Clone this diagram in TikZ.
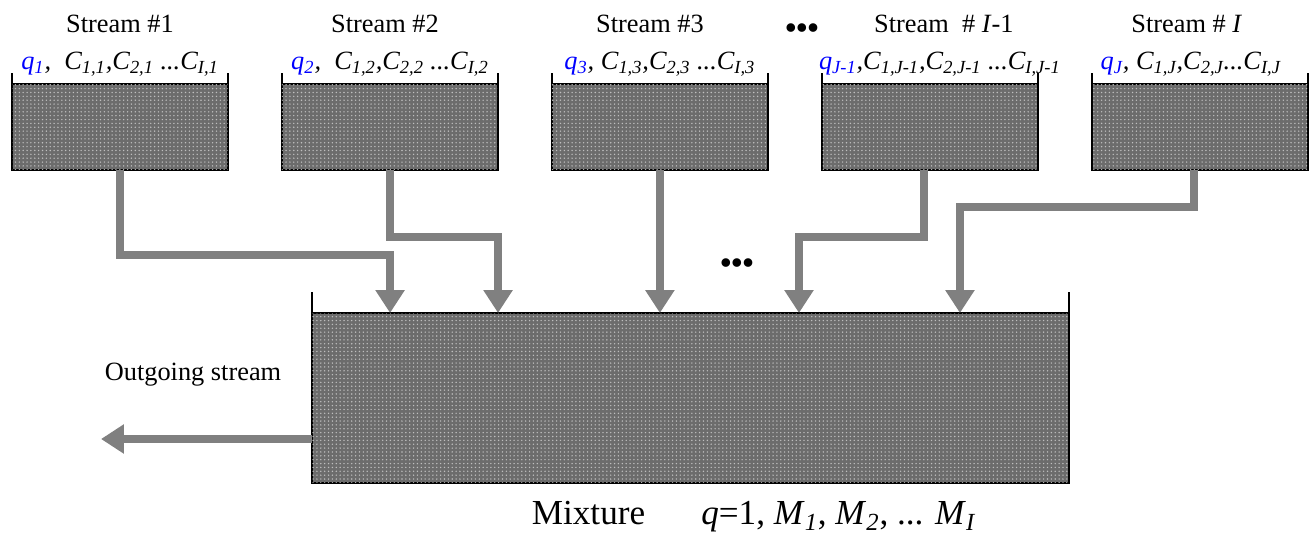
\documentclass[tikz,border=0pt]{standalone}
\usepackage{fontspec}
\setmainfont{Liberation Serif}
\usetikzlibrary{arrows.meta, patterns.meta, positioning}
\definecolor{tankgray}{RGB}{108,108,108}
\definecolor{dotgray}{RGB}{190,190,190}
\definecolor{pipegray}{RGB}{128,128,128}
\newcommand{\idx}[1]{\textsubscript{\textit{#1}}}
\newcommand{\conc}[1]{\textit{C}\idx{#1}}
\newcommand{\flow}[1]{{\color{blue}\textit{q}\idx{#1}}}

\begin{document}
\begin{tikzpicture}[x=0.02cm, y=-0.02cm, node distance=5.4cm, on grid,
    tank/.style={draw=black, line width=1.1pt, fill=tankgray,
      postaction={pattern={Dots[distance=2.2pt, radius=0.45pt]}, pattern color=dotgray},
      minimum width=4.32cm, minimum height=1.72cm, inner sep=0pt, outer sep=0pt},
    wall/.style={draw=black, line width=1.1pt},
    pipe/.style={draw=pipegray, line width=4.6pt, -{Triangle[width=0.56cm, length=0.46cm]}},
    head/.style={font=\fontsize{15}{18}\selectfont, inner sep=0pt},
    dots/.style={font=\fontsize{18}{20}\selectfont\bfseries, inner sep=0pt},
    param/.style={font=\fontsize{15}{18}\selectfont\itshape, inner sep=0pt}]
  \useasboundingbox (0,0) rectangle (1310,537);

  \node[tank] (s1) at (120,127) {};
  \node[tank] [right=of s1] (s2) {};
  \node[tank] [right=of s2] (s3) {};
  \node[tank] [right=of s3] (s4) {};
  \node[tank] [right=of s4] (s5) {};
  \node[tank, minimum width=15.14cm, minimum height=3.4cm] (mix) at (690.5,398) {};

  \foreach \s in {s1,s2,s3,s4,s5}
    \draw[wall] (\s.north west) -- ++(0,-11) (\s.north east) -- ++(0,-11);
  \draw[wall] (mix.north west) -- ++(0,-21) (mix.north east) -- ++(0,-21);

  \node[head] [above=2.06cm of s1] (h1) {Stream \#1};
  \node[head] [above=2.06cm of s2, xshift=-0.1cm] (h2) {Stream \#2};
  \node[head] [above=2.06cm of s3, xshift=-0.2cm] (h3) {Stream \#3};
  \node[head] [above=2.06cm of s4, xshift=0.28cm] (h4) {Stream \ \# \textit{I}-1};
  \node[head] [above=2.06cm of s5, xshift=-0.26cm] (h5) {Stream \# \textit{I}};
  \node[dots] (d1) at (802,31) {\textbullet\textbullet\textbullet};

  \node[param] [above=1.26cm of s1] (p1) {\flow{1},\ \ \conc{1,1},\conc{2,1} ...\conc{I,1}};
  \node[param] [above=1.26cm of s2] (p2) {\flow{2},\ \ \conc{1,2},\conc{2,2} ...\conc{I,2}};
  \node[param] [above=1.26cm of s3] (p3) {\flow{3}, \conc{1,3},\conc{2,3} ...\conc{I,3}};
  \node[param] [above=1.26cm of s4, xshift=0.2cm] (p4) {\flow{J-1},\conc{1,J-1},\conc{2,J-1} ...\conc{I,J-1}};
  \node[param] [above=1.26cm of s5, xshift=-0.18cm] (p5) {\flow{J}, \conc{1,J},\conc{2,J}...\conc{I,J}};

  \coordinate (in1) at ([xshift=1.56cm]mix.north west);
  \coordinate (in2) at ([xshift=3.72cm]mix.north west);
  \coordinate (in4) at ([xshift=9.74cm]mix.north west);
  \coordinate (in5) at ([xshift=12.96cm]mix.north west);
  \coordinate (out) at (101,439);

  \draw[pipe] (s1.south) -- ++(0,85) -| (in1);
  \draw[pipe] (s2.south) -- ++(0,67) -| (in2);
  \draw[pipe] (s3.south) -- (s3.south |- mix.north);
  \draw[pipe] ([xshift=-0.12cm]s4.south) -- ++(0,67) -| (in4);
  \draw[pipe] ([xshift=-0.12cm]s5.south) -- ++(0,37) -| (in5);
  \draw[pipe] (mix.west |- out) -- (out);

  \node[dots] (d2) at (737,266) {\textbullet\textbullet\textbullet};
  \node[head] (o1) at (193,375) {Outgoing stream};
  \node[font=\fontsize{20}{24}\selectfont, inner sep=0pt] (m1) at (754,517)
    {Mixture\hspace{1.6em}\textit{q}=1, \textit{M}\idx{1}, \textit{M}\idx{2}, ... \textit{M}\idx{I}};
\end{tikzpicture}
\end{document}
